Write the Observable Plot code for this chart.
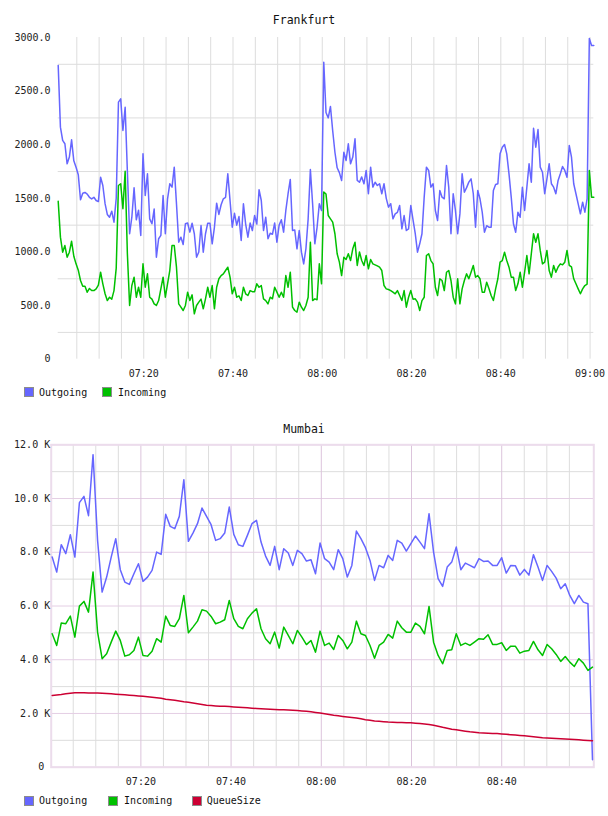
<!DOCTYPE html>
<html>
<head>
<meta charset="utf-8">
<script src="https://cdn.jsdelivr.net/npm/d3@7"></script>
<script src="https://cdn.jsdelivr.net/npm/@observablehq/plot@0.6"></script>
<style>
  body { margin: 0; background: #fff; font-family: "DejaVu Sans Mono", monospace; }
  #page { position: relative; width: 608px; height: 816px; overflow: hidden; }
  #page svg { position: absolute; left: 0; }
  .title { position: absolute; left: 0; width: 608px; text-align: center; font-size: 11.5px; line-height: 13px; color: #111; }
  .sw { position: absolute; width: 8px; height: 8px; border: 1px solid #8c8c8c; }
  .lt { position: absolute; font-size: 10px; line-height: 12px; color: #111; white-space: nowrap; }
</style>
</head>
<body>
<div id="page"></div>
<script>
// ---- Frankfurt: 30-second samples starting 07:00:50 ----
const frankfurtStart = "07:00:50";
const frankfurtStepSeconds = 30;
const frankfurtOutgoing = [
  2740, 2164, 2040, 2009, 1822, 1885, 2046, 1850, 1790, 1720,
  1486, 1548, 1555, 1540, 1510, 1495, 1510, 1480, 1470, 1697,
  1620, 1450, 1350, 1324, 1380, 1278, 1500, 2397, 2428, 2133,
  2350, 1750, 1170, 1324, 1598, 1300, 1390, 1154, 1915, 1527,
  1729, 1309, 1263, 1400, 951, 1123, 1154, 1527, 1170, 1496,
  1636, 1605, 1791, 1449, 1091, 1138, 1070, 1263, 1270, 1185,
  1268, 1170, 951, 1000, 1247, 998, 1170, 1268, 1268, 1076,
  1230, 1455, 1350, 1440, 1496, 1510, 1729, 1480, 1231, 1360,
  1250, 1330, 1107, 1449, 1260, 1138, 1270, 1200, 1340, 1260,
  1580, 1480, 1200, 1324, 1123, 1175, 1165, 1270, 1091, 1250,
  1300, 1185, 1387, 1543, 1676, 1200, 1205, 1029, 1200, 998,
  889, 1030, 1309, 1769, 1449, 1076, 1230, 1449, 1387, 2770,
  2300, 2250, 2357, 2130, 1930, 1785, 1740, 1667, 1930, 1853,
  2009, 1822, 1885, 2055, 1667, 1650, 1700, 1636, 1760, 1543,
  1791, 1605, 1650, 1620, 1636, 1543, 1636, 1500, 1418, 1450,
  1309, 1355, 1370, 1433, 1216, 1340, 1200, 1216, 1433, 1300,
  1170, 998, 1076, 1170, 1511, 1791, 1760, 1604, 1636, 1387,
  1293, 1573, 1511, 1496, 1806, 1604, 1170, 1543, 1387, 1170,
  1355, 1729, 1557, 1600, 1651, 1682, 1543, 1231, 1573, 1496,
  1371, 1184, 1245, 1231, 1231, 1573, 1630, 1636, 1915, 1977,
  2002, 1915, 1729, 1511, 1263, 1184, 1371, 1324, 1604, 1387,
  1604, 1822, 1651, 2154, 1977, 2142, 1791, 1744, 1543, 1682,
  1822, 1636, 1604, 1543, 1667, 1729, 1797, 1760, 1697, 1993,
  1884, 1636, 1543, 1449, 1356, 1464, 1371, 1496, 2990, 2925,
  2925
];
const frankfurtIncoming = [
  1473, 1138, 998, 1060, 951, 998, 1100, 960, 889, 830,
  734, 680, 680, 625, 660, 640, 640, 656, 690, 811,
  703, 610, 547, 578, 560, 640, 850, 1620, 1636, 1403,
  1753, 983, 501, 687, 765, 578, 671, 578, 889, 671,
  796, 578, 560, 516, 501, 547, 656, 765, 578, 703,
  827, 1060, 1060, 858, 516, 485, 454, 501, 625, 547,
  600, 423, 501, 532, 560, 470, 563, 671, 578, 687,
  470, 671, 750, 780, 796, 827, 858, 765, 610, 671,
  578, 590, 547, 671, 610, 594, 640, 630, 630, 703,
  671, 687, 563, 547, 516, 578, 563, 671, 625, 578,
  625, 578, 780, 671, 811, 485, 454, 439, 532, 485,
  454, 501, 578, 1091, 547, 563, 554, 889, 703, 1560,
  1540, 1340, 1309, 1278, 1170, 983, 905, 780, 951, 930,
  983, 920, 1029, 1091, 874, 1000, 920, 874, 967, 843,
  930, 889, 880, 870, 858, 827, 687, 656, 650, 640,
  625, 610, 640, 594, 547, 640, 485, 578, 640, 560,
  563, 532, 454, 547, 578, 967, 983, 920, 889, 671,
  594, 750, 734, 640, 811, 827, 734, 578, 516, 750,
  516, 656, 734, 796, 750, 811, 874, 765, 780, 750,
  625, 625, 718, 660, 594, 547, 656, 750, 905, 920,
  998, 920, 858, 765, 765, 640, 703, 811, 671, 811,
  967, 796, 983, 1170, 1091, 1170, 1014, 889, 905, 1014,
  827, 765, 874, 811, 860, 889, 880, 905, 1014, 874,
  860, 750, 703, 656, 610, 656, 687, 700, 1760, 1511,
  1511
];
const frankfurtYTicks = [0, 500, 1000, 1500, 2000, 2500, 3000];
const frankfurtYGrid = [250, 750, 1250, 1750, 2250, 2750];
const frankfurtXLabels = ["07:20", "07:40", "08:00", "08:20", "08:40", "09:00"];

// ---- Mumbai: collector samples roughly once a minute from 07:00:20 ----
const mumbaiStart = "07:00:20";
const mumbaiStepSeconds = 60.4;
const mumbaiDomain = ["07:00:07", "09:00:25"];
const mumbaiOutgoing = [
  7821, 7262, 8282, 7947, 8655, 7821, 9846, 10081, 9362, 11634,
  8443, 6517, 7076, 7821, 8506, 7351, 6890, 6804, 7202, 7575,
  6916, 7076, 7325, 8007, 7921, 9411, 8964, 8878, 9336, 10703,
  8406, 8714, 9064, 9645, 9336, 9027, 8443, 8506, 8714, 9682,
  8666, 8282, 8219, 8629, 9064, 9187, 8379, 7858, 7511, 8219,
  7351, 8133, 7970, 7511, 8070, 7947, 7672, 7723, 7202, 8342,
  7761, 7634, 7351, 8096, 7761, 7076, 7511, 8789, 8506, 8170,
  7697, 6953, 7511, 7425, 7884, 7697, 8443, 8342, 8044, 8319,
  8603, 8379, 8133, 9436, 8007, 7016, 6729, 7448, 7634, 8193,
  7351, 7597, 7511, 7425, 7761, 7660, 7672, 7511, 7511, 7798,
  7225, 7511, 7500, 7150, 7362, 7150, 7910, 7448, 6953, 7511,
  7288, 7038, 6644, 6830, 6394, 6085, 6394, 6145, 6085, 280
];
const mumbaiIncoming = [
  4967, 4532, 5363, 5340, 5623, 4841, 5996, 6171, 5772, 7262,
  5027, 4037, 4223, 4655, 5065, 4718, 4134, 4186, 4346, 4841,
  4160, 4134, 4320, 4782, 4655, 5623, 5277, 5240, 5526, 6394,
  5005, 5214, 5437, 5861, 5809, 5612, 5340, 5400, 5489, 6208,
  5526, 5240, 5154, 5526, 5735, 5899, 5154, 4782, 4595, 5027,
  4432, 5214, 4904, 4595, 5091, 4841, 4564, 4718, 4283, 5065,
  4532, 4619, 4383, 4904, 4718, 4407, 4655, 5437, 4967, 4904,
  4532, 4059, 4532, 4655, 4941, 4804, 5437, 5190, 5027, 5027,
  5363, 5240, 4967, 5984, 4655, 4160, 3850, 4346, 4370, 4967,
  4532, 4618, 4532, 4655, 4782, 4760, 4930, 4570, 4570, 4632,
  4346, 4506, 4506, 4245, 4320, 4346, 4681, 4370, 4160, 4570,
  4407, 4197, 3936, 4122, 3910, 3750, 4037, 3873, 3601, 3724
];
const mumbaiQueueSize = [
  2670, 2690, 2707, 2730, 2755, 2770, 2770, 2768, 2765, 2762,
  2760, 2750, 2740, 2730, 2718, 2705, 2693, 2680, 2666, 2652,
  2638, 2622, 2604, 2586, 2566, 2530, 2510, 2490, 2466, 2440,
  2418, 2390, 2362, 2335, 2310, 2295, 2282, 2272, 2264, 2256,
  2245, 2233, 2222, 2212, 2198, 2186, 2174, 2164, 2155, 2147,
  2141, 2137, 2130, 2120, 2108, 2096, 2080, 2060, 2040, 2015,
  1990, 1965, 1935, 1915, 1890, 1868, 1848, 1828, 1800, 1770,
  1745, 1722, 1708, 1695, 1683, 1675, 1668, 1663, 1658, 1650,
  1638, 1625, 1612, 1590, 1560, 1525, 1485, 1450, 1415, 1390,
  1365, 1340, 1318, 1300, 1285, 1275, 1266, 1258, 1250, 1240,
  1225, 1210, 1195, 1183, 1168, 1150, 1132, 1115, 1100, 1090,
  1080, 1070, 1060, 1050, 1040, 1030, 1018, 1005, 995, 983
];
const mumbaiYTicks = [0, 2000, 4000, 6000, 8000, 10000, 12000];
const mumbaiYMinor = [1000, 3000, 5000, 7000, 9000, 11000];
const mumbaiXLabels = ["07:20", "07:40", "08:00", "08:20", "08:40"];

const seriesColors = { Outgoing: "#6666ff", Incoming: "#00c000", QueueSize: "#cc0033" };

// ---- helpers ----
const parseHM = d3.utcParse("%H:%M");
const parseHMS = d3.utcParse("%H:%M:%S");
const hm = d3.utcFormat("%H:%M");
const timesFrom = (start, stepSeconds, n) => {
  const t0 = parseHMS(start).getTime();
  return d3.range(n).map(i => new Date(t0 + i * stepSeconds * 1000));
};
const rowsOf = (times, values) => values.map((v, i) => ({ t: times[i], v }));
const fiveMinuteLines = (from, to) => d3.utcMinute.every(5).range(parseHM(from), new Date(parseHM(to).getTime() + 1));

const page = document.getElementById("page");
const font = '"DejaVu Sans Mono", monospace';

function addTitle(text, top) {
  const d = document.createElement("div");
  d.className = "title";
  d.style.top = top + "px";
  d.textContent = text;
  page.appendChild(d);
}
function addLegend(items, swatchTop, textTop) {
  for (const [name, swLeft, textLeft] of items) {
    const s = document.createElement("div");
    s.className = "sw";
    s.style.left = swLeft + "px";
    s.style.top = swatchTop + "px";
    s.style.background = seriesColors[name];
    page.appendChild(s);
    const t = document.createElement("div");
    t.className = "lt";
    t.style.left = textLeft + "px";
    t.style.top = textTop + "px";
    t.textContent = name;
    page.appendChild(t);
  }
}

// ---- Frankfurt chart ----
addTitle("Frankfurt", 14);
const fTimes = timesFrom(frankfurtStart, frankfurtStepSeconds, frankfurtOutgoing.length);
const frankfurt = Plot.plot({
  width: 608, height: 350,
  marginTop: 7, marginBottom: 21.3, marginLeft: 57.7, marginRight: 14.7,
  style: { fontFamily: font, fontSize: "10px", color: "#222", background: "transparent", overflow: "visible" },
  x: { type: "utc", domain: d3.extent(fTimes), label: null },
  y: { domain: [0, 3000], label: null },
  marks: [
    Plot.ruleY(frankfurtYGrid, { stroke: "#dddddd" }),
    Plot.ruleX(fiveMinuteLines("07:05", "09:00"), { stroke: "#dddddd" }),
    Plot.axisY(frankfurtYTicks, { tickSize: 0, tickPadding: 7.7, label: null, tickFormat: d => d === 0 ? "0" : d.toFixed(1) }),
    Plot.axisX(frankfurtXLabels.map(parseHM), { tickSize: 0, tickPadding: 11, label: null, tickFormat: hm }),
    Plot.line(rowsOf(fTimes, frankfurtOutgoing), { x: "t", y: "v", stroke: seriesColors.Outgoing, strokeWidth: 1.5 }),
    Plot.line(rowsOf(fTimes, frankfurtIncoming), { x: "t", y: "v", stroke: seriesColors.Incoming, strokeWidth: 1.5 })
  ]
});
frankfurt.style.top = "30px";
page.appendChild(frankfurt);
addLegend([["Outgoing", 24, 39], ["Incoming", 102.3, 118]], 387.3, 386.5);

// ---- Mumbai chart ----
addTitle("Mumbai", 422.5);
const mTimes = timesFrom(mumbaiStart, mumbaiStepSeconds, mumbaiOutgoing.length);
const mumbaiMajorX = mumbaiXLabels.map(parseHM);
const mumbaiMinorX = fiveMinuteLines("07:05", "08:55").filter(d => d.getUTCMinutes() % 20 !== 0);
const kFormat = d => d === 0 ? "0\u00a0" : (d / 1000).toFixed(1) + " K";
const mumbai = Plot.plot({
  width: 608, height: 355,
  marginTop: 7.3, marginBottom: 25.3, marginLeft: 50.7, marginRight: 14.7,
  style: { fontFamily: font, fontSize: "10px", color: "#222", background: "transparent", overflow: "visible" },
  x: { type: "utc", domain: mumbaiDomain.map(parseHMS), label: null },
  y: { domain: [0, 12000], label: null },
  marks: [
    Plot.ruleY(mumbaiYMinor, { stroke: "#dddddd" }),
    Plot.ruleX(mumbaiMinorX, { stroke: "#dddddd" }),
    Plot.ruleY(mumbaiYTicks, { stroke: "#e4cee4" }),
    Plot.ruleX(mumbaiMajorX, { stroke: "#dcc4dc" }),
    Plot.frame({ stroke: "#ecdcec", strokeWidth: 2 }),
    Plot.axisY(mumbaiYTicks, { tickSize: 0, tickPadding: 1, label: null, tickFormat: kFormat }),
    Plot.axisX(mumbaiMajorX, { tickSize: 0, tickPadding: 11, label: null, tickFormat: hm }),
    Plot.line(rowsOf(mTimes, mumbaiOutgoing), { x: "t", y: "v", stroke: seriesColors.Outgoing, strokeWidth: 1.5 }),
    Plot.line(rowsOf(mTimes, mumbaiIncoming), { x: "t", y: "v", stroke: seriesColors.Incoming, strokeWidth: 1.5 }),
    Plot.line(rowsOf(mTimes, mumbaiQueueSize), { x: "t", y: "v", stroke: seriesColors.QueueSize, strokeWidth: 1.5 })
  ]
});
mumbai.style.top = "437px";
page.appendChild(mumbai);
addLegend([["Outgoing", 24, 39], ["Incoming", 108.3, 124], ["QueueSize", 192.3, 206.7]], 795.7, 794.8);
</script>
</body>
</html>
